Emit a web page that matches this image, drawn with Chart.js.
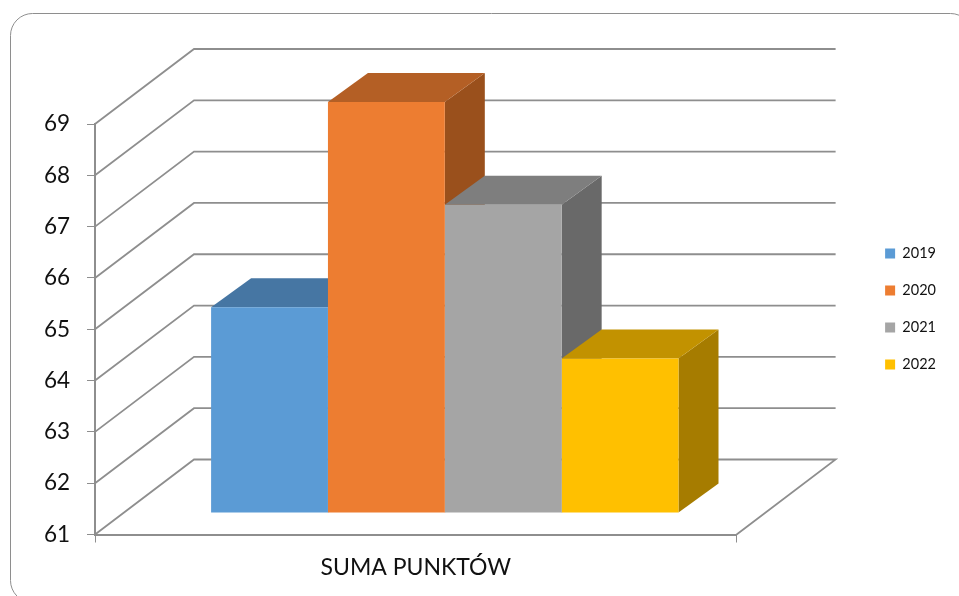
<!DOCTYPE html>
<html>
<head>
<meta charset="utf-8">
<title>SUMA PUNKTÓW</title>
<script src="https://cdn.jsdelivr.net/npm/chart.js@4"></script>
<style>
  html, body { margin: 0; padding: 0; background: #fff; overflow: hidden; }
  canvas { display: block; }
</style>
</head>
<body>
<canvas id="chart" width="959" height="596"></canvas>
<script>
const categories = ["SUMA PUNKTÓW"];
const seriesNames = ["2019", "2020", "2021", "2022"];
const seriesValues = [65, 69, 67, 64];
const yMin = 61;
const yMax = 69;

const frontColors = ["#5B9BD5", "#ED7D31", "#A5A5A5", "#FFC000"];
const topColors = ["#4676A3", "#B45F25", "#7E7E7E", "#C29200"];
const sideColors = ["#3E6A92", "#9A501C", "#696969", "#A67C00"];

const lineColor = "#8E8E8E";
// 3D look: the back wall and the bars are shifted up and to the right
const wallDepth = { x: 99, y: -75 };
const barShift = { x: 29, y: -22 };
const barDepth = { x: 40, y: -29 };

const fontName = "Lato, Carlito, sans-serif";

function fillFace(ctx, color, points) {
  ctx.fillStyle = color;
  ctx.beginPath();
  points.forEach((p, i) => i ? ctx.lineTo(p[0], p[1]) : ctx.moveTo(p[0], p[1]));
  ctx.closePath();
  ctx.fill();
}

const frame3d = {
  id: "frame3d",
  beforeDraw(chart) {
    const ctx = chart.ctx;
    ctx.save();
    ctx.strokeStyle = lineColor;
    ctx.lineWidth = 1;
    ctx.beginPath();
    ctx.roundRect(10.5, 13.5, 962, 589, 22);
    ctx.stroke();
    ctx.restore();
  },
  beforeDatasetsDraw(chart) {
    const ctx = chart.ctx;
    const area = chart.chartArea;
    const yScale = chart.scales.y;

    // wall and floor lines, one per value tick
    ctx.save();
    ctx.strokeStyle = lineColor;
    ctx.lineWidth = 1.8;
    ctx.lineJoin = "miter";
    yScale.ticks.forEach(tick => {
      const y = yScale.getPixelForValue(tick.value);
      ctx.beginPath();
      ctx.moveTo(area.left, y);
      ctx.lineTo(area.left + wallDepth.x, y + wallDepth.y);
      ctx.lineTo(area.right + wallDepth.x, y + wallDepth.y);
      if (tick.value === yMin) ctx.lineTo(area.right, y);
      ctx.stroke();
    });

    // top and side faces, left to right so the next bar covers the last one
    ctx.translate(barShift.x, barShift.y);
    chart.getSortedVisibleDatasetMetas()
      .slice()
      .sort((a, b) => a.index - b.index)
      .forEach(meta => {
        const bar = meta.data[0].getProps(["x", "y", "base", "width"], true);
        const left = bar.x - bar.width / 2;
        const right = bar.x + bar.width / 2;
        // the bar base sits at value 0, far below the axis minimum
        const base = Math.min(bar.base, area.bottom);
        const dx = barDepth.x;
        const dy = barDepth.y;
        fillFace(ctx, sideColors[meta.index], [
          [right, bar.y], [right + dx, bar.y + dy],
          [right + dx, base + dy], [right, base]
        ]);
        fillFace(ctx, topColors[meta.index], [
          [left, bar.y], [left + dx, bar.y + dy],
          [right + dx, bar.y + dy], [right, bar.y]
        ]);
      });
    ctx.restore();
  },
  beforeDatasetDraw(chart) {
    chart.ctx.save();
    chart.ctx.translate(barShift.x, barShift.y);
  },
  afterDatasetDraw(chart) {
    chart.ctx.restore();
  }
};

// empty axes, only there to hold the plot away from the legend column
const spacerAxis = {
  display: true,
  grid: { display: false },
  border: { display: false },
  ticks: { display: false }
};

new Chart(document.getElementById("chart"), {
  type: "bar",
  data: {
    labels: categories,
    datasets: seriesNames.map((name, i) => ({
      label: name,
      data: [seriesValues[i]],
      backgroundColor: frontColors[i],
      borderWidth: 0
    }))
  },
  plugins: [frame3d],
  options: {
    responsive: false,
    animation: false,
    barPercentage: 1,
    categoryPercentage: 0.7285,
    layout: { padding: { top: 22, right: 13, bottom: 0, left: 0 } },
    plugins: {
      tooltip: { enabled: false },
      legend: {
        position: "right",
        labels: {
          boxWidth: 10,
          boxHeight: 10,
          padding: 22.5,
          color: "#111",
          font: { family: fontName, size: 14.5 }
        }
      }
    },
    scales: {
      x: {
        grid: { offset: true, drawOnChartArea: false, drawTicks: true, tickLength: 8, color: lineColor },
        border: { color: lineColor, width: 2 },
        ticks: { color: "#111", padding: 11, font: { family: fontName, size: 23 } },
        afterFit(scale) { scale.height = 61.5; }
      },
      y: {
        min: yMin,
        max: yMax,
        grid: { drawOnChartArea: false, tickLength: 8, color: lineColor },
        border: { color: lineColor, width: 2 },
        ticks: { stepSize: 1, color: "#111", padding: 17, font: { family: fontName, size: 22.5 } },
        afterFit(scale) { scale.width = 95; }
      },
      topSpacer: {
        ...spacerAxis,
        type: "category",
        axis: "x",
        position: "top",
        afterFit(scale) { scale.height = 102; }
      },
      rightSpacer: {
        ...spacerAxis,
        type: "linear",
        axis: "y",
        position: "right",
        afterFit(scale) { scale.width = 126; }
      }
    }
  }
});
</script>
</body>
</html>
